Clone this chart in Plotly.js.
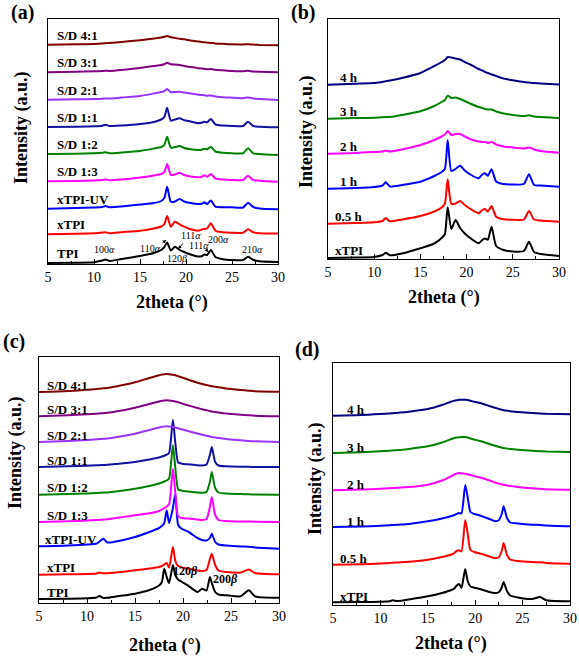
<!DOCTYPE html>
<html><head><meta charset="utf-8">
<script src="https://cdn.plot.ly/plotly-3.0.1.min.js"></script>
<style>html,body{margin:0;padding:0;background:#fff}</style>
</head><body>
<div id="chart" style="width:579px;height:656px"></div>
<script>
// ---------- DATA ----------
// 2theta sampling for alpha-form panels (a),(b)
const thetaA = [5, 8, 10, 10.9, 11.25, 11.7, 13, 15, 16.5, 17.3, 17.65, 17.95, 18.35, 18.8, 19.3, 19.8, 20.5, 21.3, 21.7, 22.0, 22.3, 22.7, 23.2, 24, 25, 26.2, 26.75, 27.3, 28, 30];
// 2theta sampling for beta-form panels (c),(d)
const thetaB = [5, 8, 10, 11.0, 11.3, 11.7, 12.1, 13, 15, 16.5, 17.5, 17.8, 18.05, 18.3, 18.55, 18.95, 19.2, 19.5, 19.9, 20.5, 21.5, 22.0, 22.45, 22.8, 23.0, 23.35, 23.7, 24.5, 26, 26.85, 27.5, 30];

// Panel (a) labels & intensities (stacked, a.u.)
const labelsA = ['TPI', 'xTPI', 'xTPI-UV', 'S/D 1:3', 'S/D 1:2', 'S/D 1:1', 'S/D 2:1', 'S/D 3:1', 'S/D 4:1'];
const a_TPI   = [1, 1.3, 1.8, 3.5, 4.5, 3, 5, 8, 11, 14, 17, 21.5, 13.5, 17.3, 14.2, 12, 9.5, 7.5, 7.8, 9.5, 9, 14, 7, 4.8, 4, 4, 7.3, 4.2, 2.8, 2];
const a_xTPI  = [29.7, 30.2, 30.7, 31.5, 31.8, 30.8, 31.8, 33.3, 35.5, 37.5, 40, 48, 37.3, 42.3, 39.7, 37.3, 34.7, 33.3, 34.5, 35.3, 35.5, 40.7, 33.3, 31.7, 31.3, 31.3, 34.7, 31.7, 30.7, 30.5];
const a_UV    = [55.3, 56, 56.5, 57, 58, 56.8, 57.5, 59.5, 61, 63, 66, 77.3, 62.3, 62.5, 65, 62.5, 61, 60, 60.3, 61.7, 60, 63.5, 57.3, 56.8, 56.7, 56.5, 61.3, 57, 55.5, 54.7];
const a_SD13  = [82.7, 83, 83.5, 84, 84.5, 83.7, 84.5, 86.5, 88.5, 90, 92, 100, 89, 89.5, 91.3, 89, 87.5, 86.7, 87.3, 88.7, 87.3, 90, 85.5, 84.5, 84, 84, 88.3, 84, 83.3, 82.3];
const a_SD12  = [110, 110.3, 110.7, 111.2, 111.7, 110.8, 111.5, 113, 115.5, 117, 119, 127.3, 116.3, 117, 118, 116, 114.7, 114, 114.3, 115.3, 114.7, 117.3, 112.5, 111.2, 110.7, 110.7, 115.7, 110.7, 110, 109];
const a_SD11  = [137, 137.3, 137.7, 138.3, 139.3, 138, 138.5, 140, 142, 144.5, 147, 156.3, 143.3, 144.5, 145.7, 143.8, 142.5, 140.8, 141.3, 142.3, 141.7, 145, 139.5, 138.5, 138, 138, 142.3, 138, 137.3, 136.7];
const a_SD21  = [164.3, 164.7, 165, 165.3, 165.6, 165.4, 166.5, 168, 170.5, 172, 173, 175, 171.8, 172, 172.3, 171.5, 170.5, 169.3, 169, 168.8, 168.3, 168.5, 167.5, 166.8, 166.3, 165.8, 166.5, 165.5, 165, 164];
const a_SD31  = [191.7, 192.2, 192.7, 193, 193.2, 193.1, 194, 196, 198, 199, 199.8, 201.3, 199.8, 199.5, 199, 198, 197, 195.8, 195.5, 195.2, 194.7, 195, 194.2, 193.7, 193, 192.8, 193.3, 192.5, 192.2, 191.7];
const a_SD41  = [219.3, 219.7, 220, 220.5, 220.8, 221, 222, 223.7, 225.5, 226.5, 227.2, 228, 226.8, 226, 225.2, 224.7, 223.6, 222.5, 222, 221.7, 221.4, 221.1, 220.6, 220.2, 219.7, 219.6, 219.7, 219.4, 219.1, 218.7];

// Panel (b)
const labelsB = ['xTPI', '0.5 h', '1 h', '2 h', '3 h', '4 h'];
const b_xTPI = [1, 1.5, 2, 4, 6.3, 3.7, 5.5, 10.7, 15.5, 21, 25, 51.7, 30, 39, 31, 25.5, 20.3, 15.7, 19, 20.5, 19.3, 32.3, 13, 9, 7.5, 8, 17.3, 7, 5, 3];
const b_05h  = [35.3, 36, 36.7, 38, 41, 37.7, 39.5, 43, 47.5, 51.5, 55.5, 79.7, 55, 55.5, 58, 54, 49.5, 45.7, 49, 50, 47.5, 53, 42.3, 39.7, 39.2, 39.5, 48, 39.5, 38.5, 37.3];
const b_1h   = [70.3, 71, 72, 73.5, 76.7, 72.5, 74, 77.3, 83, 87, 90, 119, 88, 90, 93.3, 88.5, 84, 80.7, 84.5, 85.7, 83.3, 89.7, 77.5, 75, 74.5, 75, 84.7, 74, 73.5, 72.3];
const b_2h   = [105.3, 106, 107, 107.5, 108.5, 107.5, 109.5, 114, 119, 122.5, 124.5, 128, 124, 125, 125, 122.5, 119.5, 117.5, 117, 117, 116, 117, 114.5, 112.5, 111.5, 110.5, 111.5, 109.5, 108, 106.3];
const b_3h   = [140.3, 141, 141.3, 141.8, 142, 142, 144, 147.7, 153, 157, 159, 163.3, 161, 161.5, 160, 158, 155, 152, 151, 150, 149.5, 149.5, 147.5, 145.5, 144, 143, 143.7, 142.5, 142, 141];
const b_4h   = [174.3, 175.3, 176, 177, 177.8, 178.5, 181, 186, 193, 197, 199, 202, 201.5, 200.5, 199.5, 197, 194, 190, 188.5, 187, 186, 184.5, 183, 180.5, 178.7, 177, 176.5, 176, 175.5, 174.5];

// Panel (c)
const labelsC = ['TPI', 'xTPI', 'xTPI-UV', 'S/D 1:3', 'S/D 1:2', 'S/D 1:1', 'S/D 2:1', 'S/D 3:1', 'S/D 4:1'];
const c_TPI  = [4, 4.3, 4.7, 5.5, 7, 5, 5.2, 6.5, 9.3, 13, 17.5, 21, 34.3, 26, 20, 37.7, 28, 23.3, 21, 17.7, 11, 14.3, 12.5, 26, 20, 11, 8.5, 7.7, 6.7, 12.7, 6.7, 5.3];
const c_xTPI = [28.3, 28.7, 29, 29.5, 30.5, 29.7, 29.8, 30.5, 32.7, 34.5, 36, 37, 38.5, 40, 35.5, 56, 42, 37, 35.5, 34.5, 32.5, 32, 33, 44, 49.3, 38, 32.5, 31, 30.5, 33.5, 30, 28.7];
const c_UV   = [56.7, 57.5, 58.5, 59.5, 61.5, 64.3, 60.5, 61.5, 66, 71, 75, 77, 80, 92.7, 80, 95, 109, 78, 74, 71.5, 65, 63, 62.5, 65, 69.3, 61, 58.5, 57.5, 56.5, 56.3, 55.5, 54.3];
const c_SD13 = [81, 81.7, 82.5, 83, 83.2, 83.5, 83.7, 85, 87.7, 89.7, 92, 93.5, 95, 96.5, 99, 134, 110, 86.5, 85, 84.5, 83.5, 83, 84, 96, 106, 88, 83, 82, 81.5, 81.5, 81.3, 81];
const c_SD12 = [108.3, 109, 109.5, 110, 110.2, 110.4, 110.6, 111.5, 114.3, 117, 119.5, 120.5, 121.5, 122.5, 124.5, 157.7, 135, 113.5, 112.3, 111.5, 110.5, 110.2, 111, 121, 131, 115, 110.5, 109.5, 109, 108.7, 108.5, 108.3];
const c_SD11 = [136, 136.7, 137.3, 137.7, 137.8, 138, 138.2, 139, 141, 143.5, 145.5, 146.5, 147.3, 148.3, 150, 183.3, 160, 140.5, 139.3, 138.7, 137.7, 137.5, 138.5, 148, 156, 141, 137.5, 136.7, 136.3, 136.2, 136, 136];
const c_SD21 = [161, 162, 163, 163.7, 164, 164.2, 164.5, 165.7, 169.3, 173, 175.5, 176.2, 176.5, 176.7, 176.5, 176, 175.5, 174.7, 173.5, 172, 169.5, 168.3, 167.3, 166.5, 166, 165.5, 165, 164, 162.7, 162, 161.7, 161];
const c_SD31 = [186.7, 187.7, 188.7, 189.3, 189.5, 189.8, 190.2, 191.5, 195.3, 199, 201.5, 202.2, 202.5, 202.7, 202.5, 202, 201.5, 200.7, 199.5, 197.7, 195, 193.7, 192.7, 192, 191.5, 191, 190.5, 189.5, 188.3, 187.7, 187.3, 186.7];
const c_SD41 = [211, 212, 213.3, 214, 214.3, 214.7, 215, 216.5, 220.7, 225, 227.7, 228.5, 228.8, 229, 228.8, 228.2, 227.7, 226.8, 225.5, 223.5, 220.3, 219, 218, 217.2, 216.8, 216.2, 215.7, 214.5, 213, 212.3, 211.8, 211.3];

// Panel (d)
const labelsD = ['xTPI', '0.5 h', '1 h', '2 h', '3 h', '4 h'];
const d_xTPI = [2.7, 3, 3.3, 3.8, 4.7, 4, 4.2, 5.5, 8.7, 12, 15, 16.5, 19.5, 21, 17, 36, 24, 18.5, 17.3, 16, 13, 12, 12.5, 17.5, 23, 14, 9.5, 7.5, 6, 8, 4.7, 3.7];
const d_05h  = [40.3, 40.8, 41.5, 42, 42.3, 42.5, 42.7, 43.3, 45.3, 48, 50.5, 52, 54, 54.7, 53.7, 85, 72, 55, 53, 51.5, 48.5, 47, 47.5, 54, 62, 50, 45.5, 44, 43, 42.7, 42, 41.3];
const d_1h   = [78, 78.5, 79.3, 79.8, 80, 80.2, 80.4, 81, 83.7, 86.5, 89, 90, 91.2, 92, 91.5, 120, 108, 93, 91, 89.5, 86, 84, 84.5, 91, 98.7, 87, 82.5, 81.5, 80.3, 80, 79.5, 78.7];
const d_2h   = [114.7, 115.5, 116.3, 116.8, 117, 117.2, 117.4, 118, 120.3, 124.5, 129, 130.5, 131.5, 132, 131.8, 131.3, 130.8, 130, 129, 127.5, 124.5, 122.8, 121.5, 120.7, 120.2, 119.5, 119, 118, 116.7, 116.2, 115.8, 115.3];
const d_3h   = [152, 152.8, 153.7, 154.3, 154.5, 154.8, 155.1, 156, 158.7, 162.5, 166, 167, 167.5, 167.8, 168, 168, 167.5, 166.5, 165.5, 164, 161, 159.5, 158.3, 157.5, 157, 156.5, 156, 155.3, 154.3, 153.8, 153.5, 153];
const d_4h   = [189.3, 190, 191, 191.6, 191.8, 192.1, 192.4, 193.3, 196, 200, 203.5, 204.3, 204.8, 205.2, 205.3, 205.3, 205, 204.3, 203.2, 202, 199, 197.5, 196.2, 195.3, 194.8, 194.3, 193.8, 193, 192, 191.5, 191.2, 190.7];

// Peak index labels
const peakTextA = ['100<i>α</i>', '110<i>α</i>', '120<i>β</i>', '111<i>α</i>', '111<i>α</i>', '200<i>α</i>', '210<i>α</i>'];
const peakTextC = ['120<i>β</i>', '200<i>β</i>'];

// ---------- STYLE / LAYOUT ----------
const W = 579, H = 656;
const SERIF = 'Liberation Serif';
const colSD = ['#000000', '#ff0000', '#0000ff', '#ff00ff', '#008000', '#1212a0', '#9933ff', '#800080', '#800000'];
const colT  = ['#000000', '#ff0000', '#0000ff', '#ff00ff', '#008000', '#000080'];

// panel boxes in pixels: [left, right, top, bottom]
const boxes = {a: [48, 278, 19, 264], b: [328, 559, 19, 259], c: [39, 279, 357, 603], d: [333, 570, 363, 605]};
const ids = {a: ['x', 'y'], b: ['x2', 'y2'], c: ['x3', 'y3'], d: ['x4', 'y4']};

const traces = [];
const annotations = [];
const layout = {
  width: W, height: H, margin: {l: 0, r: 0, t: 0, b: 0},
  paper_bgcolor: '#fff', plot_bgcolor: '#fff', showlegend: false, hovermode: false,
  font: {family: SERIF},
  annotations: annotations
};

function addPanel(key, theta, series, labels, colors, labelOffset, labelX) {
  const [l, r, t, b] = boxes[key];
  const [xa, ya] = ids[key];
  const xName = 'xaxis' + xa.slice(1), yName = 'yaxis' + ya.slice(1);
  layout[xName] = {
    domain: [l / W, r / W], anchor: ya, range: [5, 30], tickvals: [5, 10, 15, 20, 25, 30],
    ticks: 'inside', ticklen: 5, tickwidth: 1, tickcolor: '#000',
    minor: {ticks: 'inside', dtick: 2.5, tick0: 5, ticklen: 3, tickcolor: '#000'},
    showline: true, linecolor: '#000', linewidth: 1, mirror: true, showgrid: false, zeroline: false,
    tickfont: {family: SERIF, size: 14, color: '#000'}
  };
  layout[yName] = {
    domain: [1 - b / H, 1 - t / H], anchor: xa, range: [0, b - t],
    showticklabels: false, ticks: '', showline: true, linecolor: '#000', linewidth: 1, mirror: true,
    showgrid: false, zeroline: false
  };
  series.forEach((s, i) => {
    traces.push({x: theta, y: s, xaxis: xa, yaxis: ya, type: 'scatter', mode: 'lines',
      line: {color: colors[i], width: 2, shape: 'spline', smoothing: 0.6}});
    annotations.push({x: labelX(labels[i]), y: s[0] + labelOffset, xref: xa, yref: ya,
      text: '<b>' + labels[i] + '</b>', showarrow: false, xanchor: 'left', yanchor: 'middle',
      font: {family: SERIF, size: 13, color: '#000'}});
  });
}

addPanel('a', thetaA, [a_TPI, a_xTPI, a_UV, a_SD13, a_SD12, a_SD11, a_SD21, a_SD31, a_SD41], labelsA, colSD, 9.5, () => 5.75);
addPanel('b', thetaA, [b_xTPI, b_05h, b_1h, b_2h, b_3h, b_4h], labelsB, colT, 7, (s) => s.length > 3 ? 5.55 : 6.1);
addPanel('c', thetaB, [c_TPI, c_xTPI, c_UV, c_SD13, c_SD12, c_SD11, c_SD21, c_SD31, c_SD41], labelsC, colSD, 7, (s) => s === 'xTPI-UV' ? 5.45 : 5.6);
addPanel('d', thetaB, [d_xTPI, d_05h, d_1h, d_2h, d_3h, d_4h], labelsD, colT, 6, (s) => s.length > 3 ? 5.5 : 6.25);

// peak labels panel (a)
const peakPosA = [[11.1, 14], [16.1, 15.5], [19.0, 5.5], [20.55, 28.5], [21.45, 18.5], [23.55, 24.5], [27.2, 14]];
peakTextA.forEach((t, i) => annotations.push({x: peakPosA[i][0], y: peakPosA[i][1], xref: 'x', yref: 'y',
  text: t, showarrow: false, font: {family: SERIF, size: 10, color: '#000'}}));
// arrows panel (a)
[[17.28, 20, 17.85, 24], [19.8, 22, 19.15, 15], [22.05, 15.5, 22.45, 12]].forEach(p => annotations.push({
  x: p[2], y: p[3], ax: p[0], ay: p[1], xref: 'x', yref: 'y', axref: 'x', ayref: 'y', text: '',
  showarrow: true, arrowhead: 2, arrowsize: 0.7, arrowwidth: 1, arrowcolor: '#000'}));
// peak labels panel (c)
const peakPosC = [[20.3, 32], [24.4, 24]];
peakTextC.forEach((t, i) => annotations.push({x: peakPosC[i][0], y: peakPosC[i][1], xref: 'x3', yref: 'y3',
  text: '<b>' + t + '</b>', showarrow: false, font: {family: SERIF, size: 12, color: '#000'}}));

// panel letters, axis titles
function paperText(text, px, py, size, angle) {
  annotations.push({x: px / W, y: 1 - py / H, xref: 'paper', yref: 'paper', text: '<b>' + text + '</b>',
    showarrow: false, xanchor: 'center', yanchor: 'middle', textangle: angle || 0,
    font: {family: SERIF, size: size, color: '#000'}});
}
paperText('(a)', 22, 13, 20); paperText('(b)', 303, 13, 20);
paperText('(c)', 14, 341, 20); paperText('(d)', 307, 349, 20);
paperText('Intensity (a.u.)', 22, 128, 18, -90); paperText('Intensity (a.u.)', 307, 132, 18, -90);
paperText('Intensity (a.u.)', 15, 453, 18, -90); paperText('Intensity (a.u.)', 315, 479, 18, -90);
paperText('2theta (°)', 172, 302, 18); paperText('2theta (°)', 444, 297, 18);
paperText('2theta (°)', 165, 645, 18); paperText('2theta (°)', 451, 643, 18);

Plotly.newPlot('chart', traces, layout, {staticPlot: true, displayModeBar: false});
</script>
</body></html>
